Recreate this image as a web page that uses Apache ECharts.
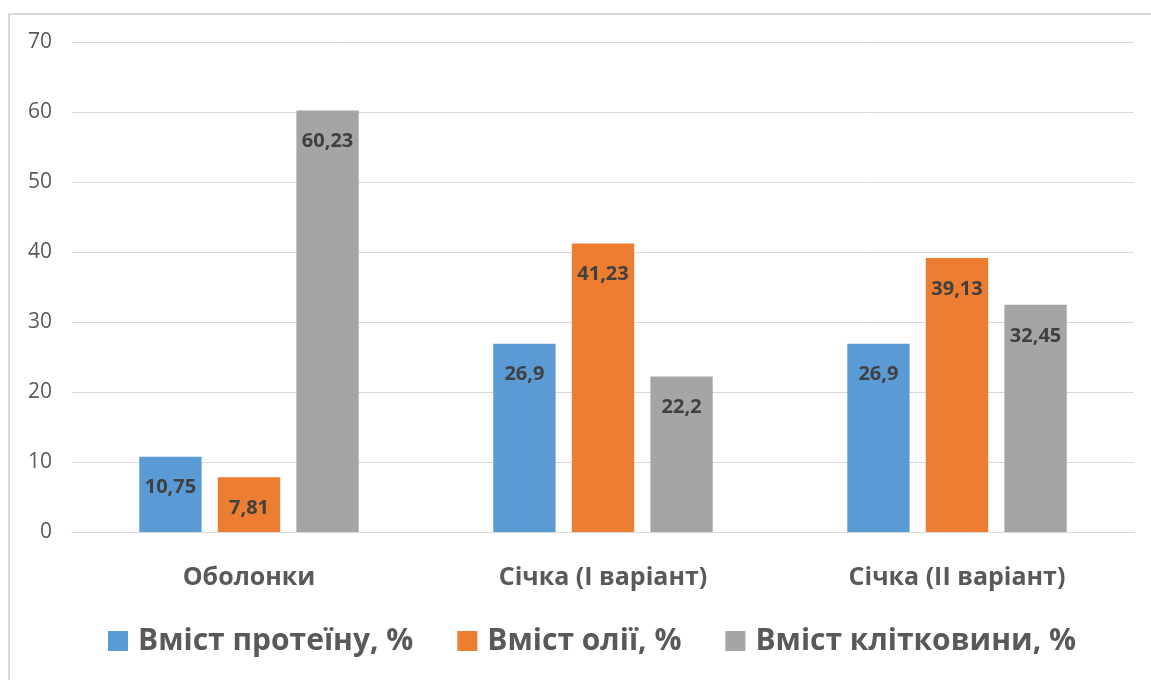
<!DOCTYPE html>
<html><head><meta charset="utf-8">
<script src="https://cdn.jsdelivr.net/npm/echarts@6/dist/echarts.min.js"></script>
<style>html,body{margin:0;padding:0;background:#fff}#c{width:1151px;height:680px}</style>
</head><body><div id="c"></div>
<script>
const categories = ['Оболонки', 'Січка (І варіант)', 'Січка (ІІ варіант)'];
const seriesNames = ['Вміст протеїну, %', 'Вміст олії, %', 'Вміст клітковини, %'];
const protein = [10.75, 26.9, 26.9];
const oil = [7.81, 41.23, 39.13];
const fiber = [60.23, 22.2, 32.45];
const colors = ['#5b9bd5', '#ed7d31', '#a5a5a5'];
const FONT = '"Open Sans", "Noto Sans", sans-serif';
const chart = echarts.init(document.getElementById('c'));
const label = {
  show: true, position: 'insideTop', distance: 21,
  color: '#404040', fontWeight: 'bold', fontSize: 20, fontFamily: FONT,
  formatter: p => String(p.value).replace('.', ',')
};
const mk = (name, data, i) => ({
  name, type: 'bar', data, barGap: '26%', barCategoryGap: '38%',
  itemStyle: { color: colors[i] }, label
});
chart.setOption({
  animation: false,
  textStyle: { fontFamily: FONT },
  graphic: [{ type: 'rect', shape: { x: 9, y: 14, width: 1160, height: 700 },
    style: { fill: 'none', stroke: '#d9d9d9', lineWidth: 2 }, silent: true }],
  grid: { left: 72, right: 17, top: 42, bottom: 148, containLabel: false },
  legend: {
    top: 621, left: 103, itemWidth: 20, itemHeight: 20, itemGap: 44,
    icon: 'rect',
    textStyle: { fontSize: 30, fontWeight: 'bold', color: '#595959', fontFamily: FONT, padding: [0, 0, 0, 5] },
    data: seriesNames
  },
  xAxis: {
    type: 'category', data: categories,
    axisLine: { lineStyle: { color: '#d9d9d9' } }, axisTick: { show: false },
    axisLabel: { fontSize: 25, fontWeight: 'bold', color: '#595959', margin: 33, fontFamily: FONT }
  },
  yAxis: {
    type: 'value', min: 0, max: 70, interval: 10,
    axisLine: { show: false }, axisTick: { show: false },
    splitLine: { lineStyle: { color: '#d9d9d9' } },
    axisLabel: { fontSize: 21, color: '#595959', margin: 20, fontFamily: FONT }
  },
  series: [mk(seriesNames[0], protein, 0), mk(seriesNames[1], oil, 1), mk(seriesNames[2], fiber, 2)]
});
</script></body></html>
